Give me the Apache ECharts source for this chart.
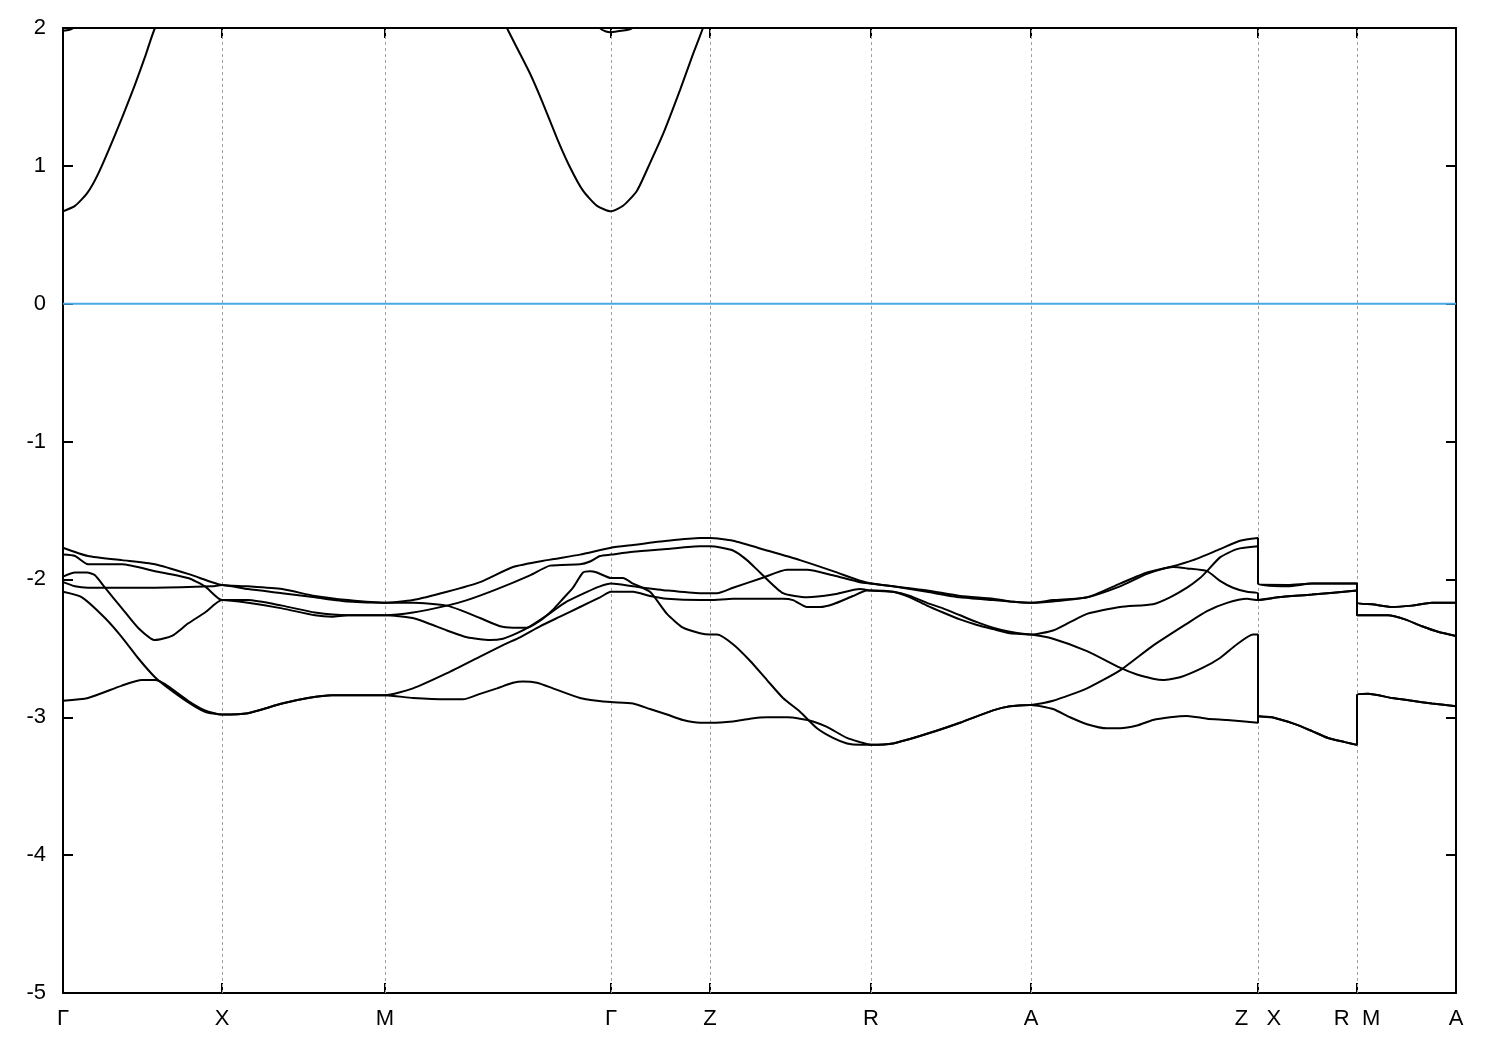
<!DOCTYPE html>
<html>
<head>
<meta charset="utf-8">
<script src="https://cdn.jsdelivr.net/npm/echarts@6/dist/echarts.min.js"></script>
<style>
html,body{margin:0;padding:0;background:#fff;}
#chart{width:1500px;height:1050px;}
</style>
</head>
<body>
<div id="chart"></div>
<script>
// High-symmetry points along the k-path (path length, arbitrary units)
const tickK = [0, 1.59, 3.22, 5.48, 6.47, 8.08, 9.68, 11.95, 12.94, 13.93];
const tickLabels = ['Γ', 'X', 'M', 'Γ', 'Z', 'R', 'A', 'Z   X', 'R  M', 'A'];
const yTicks = { min: -5, max: 2, step: 1 };
const fermiLevel = 0;

// Valence bands [k, E(eV)]
const band1 = [
[0,-1.77],[0.25,-1.83],[0.59,-1.86],[0.92,-1.89],[1.25,-1.96],[1.49,-2.02],[1.59,-2.04],
[1.85,-2.05],[2.19,-2.07],[2.52,-2.12],[2.85,-2.15],[3.22,-2.17],
[3.50,-2.15],[3.84,-2.09],[4.17,-2.02],[4.50,-1.91],[4.84,-1.86],[5.17,-1.82],[5.48,-1.77],
[5.70,-1.75],[6.04,-1.72],[6.37,-1.70],[6.47,-1.70],
[6.70,-1.72],[7.04,-1.79],[7.37,-1.86],[7.70,-1.94],[7.97,-2.01],[8.08,-2.03],
[8.30,-2.05],[8.64,-2.08],[8.97,-2.12],[9.30,-2.14],[9.47,-2.16],[9.68,-2.17],
[9.90,-2.15],[10.24,-2.13],[10.57,-2.03],[10.84,-1.95],[11.07,-1.91],[11.30,-1.86],[11.57,-1.78],[11.77,-1.72],[11.95,-1.70],
[11.95,-2.03],[12.25,-2.04],[12.49,-2.03],[12.94,-2.03],
[12.94,-2.17],[13.09,-2.18],[13.29,-2.20],[13.49,-2.19],[13.69,-2.17],[13.93,-2.17]
];
const band2 = [
[0,-1.82],[0.12,-1.83],[0.25,-1.89],[0.42,-1.89],[0.59,-1.89],[0.92,-1.94],[1.25,-1.99],[1.42,-2.05],[1.59,-2.15],
[1.85,-2.15],[2.19,-2.19],[2.52,-2.24],[2.85,-2.26],[3.22,-2.26],
[3.50,-2.24],[3.84,-2.19],[4.04,-2.15],[4.34,-2.07],[4.67,-1.97],[4.87,-1.90],[5.17,-1.89],[5.27,-1.87],[5.37,-1.83],[5.48,-1.82],
[5.70,-1.80],[6.04,-1.78],[6.37,-1.76],[6.47,-1.76],
[6.70,-1.79],[6.84,-1.86],[6.97,-1.95],[7.20,-2.10],[7.44,-2.13],[7.70,-2.11],[7.97,-2.07],[8.08,-2.08],
[8.30,-2.09],[8.47,-2.12],[8.64,-2.17],[8.80,-2.21],[8.97,-2.26],[9.14,-2.31],[9.30,-2.35],[9.47,-2.38],[9.68,-2.40],
[9.90,-2.37],[10.07,-2.31],[10.24,-2.25],[10.57,-2.20],[10.90,-2.18],[11.07,-2.13],[11.24,-2.06],[11.37,-1.99],[11.44,-1.94],[11.57,-1.84],[11.74,-1.78],[11.95,-1.76],
[11.95,-2.03],[12.25,-2.05],[12.49,-2.03],[12.94,-2.03],
[12.94,-2.17],[13.09,-2.18],[13.29,-2.20],[13.49,-2.19],[13.69,-2.17],[13.93,-2.17]
];
const band3 = [
[0,-1.98],[0.12,-1.95],[0.24,-1.95],[0.32,-1.97],[0.42,-2.06],[0.59,-2.21],[0.75,-2.35],[0.92,-2.44],[1.09,-2.41],[1.25,-2.32],[1.42,-2.24],[1.59,-2.15],
[1.85,-2.17],[2.19,-2.21],[2.52,-2.26],[2.69,-2.27],[2.85,-2.26],[3.22,-2.26],
[3.50,-2.28],[3.84,-2.37],[4.04,-2.42],[4.27,-2.44],[4.40,-2.43],[4.54,-2.39],[4.67,-2.34],[4.84,-2.26],[5.04,-2.16],[5.24,-2.09],[5.37,-2.05],[5.48,-2.03],
[5.70,-2.05],[6.04,-2.08],[6.37,-2.10],[6.47,-2.10],[6.54,-2.10],[6.70,-2.06],[6.99,-1.99],[7.24,-1.93],[7.44,-1.93],[7.70,-1.97],[7.97,-2.02],[8.08,-2.03],
[8.30,-2.05],[8.64,-2.09],[8.97,-2.13],[9.30,-2.15],[9.47,-2.16],[9.68,-2.17],
[9.90,-2.16],[10.24,-2.13],[10.57,-2.05],[10.84,-1.96],[11.10,-1.91],[11.24,-1.92],[11.44,-1.94],[11.57,-2.01],[11.70,-2.06],[11.84,-2.09],[11.95,-2.10],
[11.95,-2.15],[12.15,-2.13],[12.49,-2.11],[12.94,-2.08],
[12.94,-2.26],[13.25,-2.26],[13.42,-2.29],[13.59,-2.34],[13.75,-2.38],[13.93,-2.41]
];
const band4 = [
[0,-2.02],[0.12,-2.05],[0.25,-2.06],[0.92,-2.06],[1.49,-2.05],[1.59,-2.04],
[1.85,-2.07],[2.19,-2.10],[2.52,-2.13],[2.85,-2.16],[3.22,-2.17],
[3.50,-2.17],[3.84,-2.19],[4.00,-2.23],[4.17,-2.28],[4.37,-2.34],[4.50,-2.35],[4.64,-2.35],[4.77,-2.30],[4.90,-2.22],[5.00,-2.14],[5.10,-2.06],[5.20,-1.95],[5.27,-1.94],[5.34,-1.95],[5.48,-1.99],
[5.60,-1.99],[5.70,-2.03],[5.87,-2.09],[6.04,-2.25],[6.20,-2.35],[6.37,-2.39],[6.47,-2.40],[6.54,-2.40],[6.70,-2.47],[6.87,-2.59],[7.04,-2.73],[7.20,-2.86],[7.37,-2.96],[7.54,-3.08],[7.70,-3.15],[7.84,-3.19],[7.97,-3.20],[8.08,-3.20],
[8.30,-3.19],[8.64,-3.12],[8.97,-3.04],[9.30,-2.95],[9.47,-2.92],[9.68,-2.91],
[9.90,-2.88],[10.24,-2.79],[10.57,-2.66],[10.90,-2.48],[11.24,-2.32],[11.44,-2.23],[11.64,-2.17],[11.84,-2.14],[11.95,-2.15],
[12.15,-2.13],[12.49,-2.11],[12.94,-2.08],
[12.94,-2.26],[13.25,-2.26],[13.42,-2.29],[13.59,-2.34],[13.75,-2.38],[13.93,-2.41]
];
const band5 = [
[0,-2.09],[0.19,-2.13],[0.42,-2.28],[0.59,-2.42],[0.75,-2.57],[0.92,-2.71],[1.02,-2.77],[1.25,-2.89],[1.42,-2.96],[1.59,-2.98],
[1.85,-2.97],[2.19,-2.90],[2.45,-2.86],[2.69,-2.84],[3.22,-2.84],
[3.50,-2.79],[3.84,-2.68],[4.17,-2.56],[4.42,-2.47],[4.57,-2.42],[4.77,-2.34],[4.97,-2.27],[5.17,-2.20],[5.37,-2.13],[5.48,-2.09],
[5.70,-2.09],[5.87,-2.12],[6.04,-2.14],[6.37,-2.15],[6.47,-2.15],[6.70,-2.14],[7.04,-2.14],[7.20,-2.14],[7.30,-2.15],[7.44,-2.20],[7.57,-2.20],[7.70,-2.18],[7.90,-2.12],[8.04,-2.08],[8.08,-2.08],
[8.30,-2.09],[8.47,-2.13],[8.64,-2.19],[8.80,-2.24],[8.97,-2.29],[9.14,-2.33],[9.30,-2.36],[9.47,-2.39],[9.68,-2.40],
[9.90,-2.43],[10.24,-2.52],[10.57,-2.64],[10.74,-2.69],[10.90,-2.72],[11.00,-2.73],[11.17,-2.71],[11.40,-2.64],[11.57,-2.57],[11.74,-2.47],[11.90,-2.40],[11.95,-2.40],
[11.95,-2.99],[12.09,-3.00],[12.32,-3.05],[12.49,-3.10],[12.65,-3.15],[12.82,-3.18],[12.94,-3.20],
[12.94,-2.84],[13.05,-2.83],[13.29,-2.86],[13.49,-2.88],[13.69,-2.90],[13.93,-2.92]
];
const band6 = [
[0,-2.88],[0.25,-2.86],[0.59,-2.77],[0.79,-2.73],[0.92,-2.73],[1.02,-2.76],[1.25,-2.88],[1.42,-2.95],[1.59,-2.98],
[1.85,-2.97],[2.19,-2.90],[2.45,-2.86],[2.69,-2.84],[3.22,-2.84],
[3.50,-2.86],[3.84,-2.87],[4.00,-2.87],[4.17,-2.83],[4.34,-2.79],[4.50,-2.75],[4.60,-2.74],[4.74,-2.75],[4.90,-2.79],[5.17,-2.86],[5.34,-2.88],[5.48,-2.89],
[5.70,-2.90],[5.87,-2.94],[6.04,-2.98],[6.20,-3.02],[6.37,-3.04],[6.47,-3.04],[6.70,-3.03],[6.87,-3.01],[7.04,-3.00],[7.24,-3.00],[7.37,-3.01],[7.50,-3.03],[7.64,-3.07],[7.84,-3.15],[7.97,-3.18],[8.08,-3.20],
[8.30,-3.19],[8.64,-3.12],[8.97,-3.04],[9.30,-2.95],[9.47,-2.92],[9.68,-2.91],
[9.90,-2.94],[10.07,-3.00],[10.24,-3.05],[10.44,-3.08],[10.57,-3.08],[10.74,-3.06],[10.90,-3.02],[11.07,-3.00],[11.24,-2.99],[11.44,-3.01],[11.64,-3.02],[11.95,-3.04],
[11.95,-2.99],[12.09,-3.00],[12.32,-3.05],[12.49,-3.10],[12.65,-3.15],[12.82,-3.18],[12.94,-3.20],
[12.94,-2.84],[13.05,-2.83],[13.29,-2.86],[13.49,-2.88],[13.69,-2.90],[13.93,-2.92]
];
// Conduction bands (parts above 2 eV are estimates, clipped by the frame)
const cond1 = [
[0,0.67],[0.12,0.71],[0.24,0.80],[0.35,0.94],[0.54,1.26],[0.72,1.59],[0.82,1.79],[0.92,2.00],[1.20,2.40],[3.22,3.20],[4.20,2.40],
[4.44,2.00],[4.67,1.67],[4.79,1.47],[4.94,1.20],[5.07,0.99],[5.20,0.82],[5.34,0.71],[5.48,0.67],[5.60,0.71],[5.74,0.82],[5.87,1.02],[6.00,1.23],[6.17,1.55],[6.30,1.81],[6.40,2.00],[6.60,2.40]
];
const cond2 = [
[0,1.98],[0.10,2.00],[0.30,2.40],[5.20,2.40],[5.37,2.00],[5.43,1.975],[5.48,1.97],[5.58,1.98],[5.69,2.00],[5.85,2.40]
];

const bands = [band1, band2, band3, band4, band5, band6, cond1, cond2];

const FONT = 'Liberation Sans';
const chart = echarts.init(document.getElementById('chart'), null, { renderer: 'canvas' });

function labelFor(v) {
  const i = tickK.findIndex(t => Math.abs(t - v) < 1e-6);
  return i >= 0 ? tickLabels[i] : '';
}

const xBase = {
  type: 'value', min: tickK[0], max: tickK[tickK.length - 1],
  axisLine: { show: true, onZero: false, lineStyle: { color: '#000', width: 2 } },
  axisTick: { show: true, inside: true, length: 10, customValues: tickK, lineStyle: { color: '#000', width: 2 } },
  splitLine: { show: false }
};

const series = bands.map((b, i) => ({
  type: 'line', name: 'band' + (i + 1), data: b, showSymbol: false, symbol: 'none',
  smooth: 0.2,
  lineStyle: { color: '#000', width: 2 }, itemStyle: { color: '#000' },
  clip: true, z: 5, silent: true
}));

series.unshift({
  type: 'line', name: 'grid', data: [], z: 1, silent: true,
  markLine: {
    silent: true, symbol: ['none', 'none'], animation: false,
    label: { show: false },
    lineStyle: { color: '#a0a0a0', width: 1, type: [3, 3] },
    data: tickK.slice(1, -1).map(v => ({ xAxis: v }))
  }
});
series.unshift({
  type: 'line', name: 'fermi', data: [[tickK[0], fermiLevel], [tickK[tickK.length - 1], fermiLevel]],
  showSymbol: false, symbol: 'none', z: 3, silent: true,
  lineStyle: { color: '#4aa8e2', width: 2 }
});

chart.setOption({
  animation: false,
  backgroundColor: '#fff',
  textStyle: { fontFamily: FONT },
  grid: { left: 63, right: 44, top: 28, bottom: 57, containLabel: false },
  xAxis: [
    Object.assign({}, xBase, {
      position: 'bottom',
      axisLabel: { show: true, customValues: tickK, formatter: labelFor, color: '#000', fontSize: 22, fontFamily: FONT, margin: 15 }
    }),
    Object.assign({}, xBase, { position: 'top', axisLabel: { show: false } })
  ],
  yAxis: [
    {
      type: 'value', min: yTicks.min, max: yTicks.max, interval: yTicks.step, position: 'left',
      axisLine: { show: true, onZero: false, lineStyle: { color: '#000', width: 2 } },
      axisTick: { show: true, inside: true, length: 10, lineStyle: { color: '#000', width: 2 } },
      axisLabel: { color: '#000', fontSize: 22, fontFamily: FONT, margin: 17 },
      splitLine: { show: false }
    },
    {
      type: 'value', min: yTicks.min, max: yTicks.max, interval: yTicks.step, position: 'right',
      axisLine: { show: true, onZero: false, lineStyle: { color: '#000', width: 2 } },
      axisTick: { show: true, inside: true, length: 10, lineStyle: { color: '#000', width: 2 } },
      axisLabel: { show: false },
      splitLine: { show: false }
    }
  ],
  series: series
});
</script>
</body>
</html>
